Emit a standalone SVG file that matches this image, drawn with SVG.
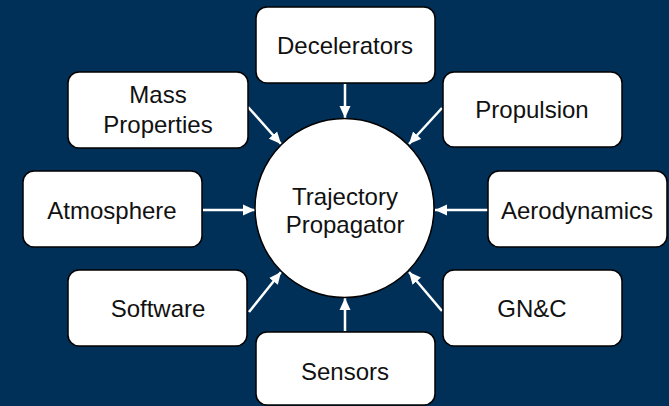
<svg xmlns="http://www.w3.org/2000/svg" width="669" height="406" viewBox="0 0 669 406">
<defs>
<style>
.box{fill:#fff;stroke:#000;stroke-width:1.5}
.lbl{font-family:"Liberation Sans",Arial,sans-serif;font-size:24px;fill:#111;text-anchor:middle}
.conn{stroke:#fff;stroke-width:2.5;fill:none;marker-end:url(#ah)}
</style>
<marker id="ah" markerUnits="userSpaceOnUse" markerWidth="13" markerHeight="12" refX="12" refY="6" orient="auto">
<path d="M0,0.5 L12,6 L0,11.5 Z" fill="#fff"/>
</marker>
</defs>
<rect width="669" height="406" fill="#003058"/>
<g id="connectors">
<line class="conn" x1="345" y1="84" x2="345" y2="118"/>
<line class="conn" x1="248" y1="107" x2="281" y2="144"/>
<line class="conn" x1="203" y1="210" x2="255" y2="210"/>
<line class="conn" x1="442" y1="108" x2="409" y2="144"/>
<line class="conn" x1="488" y1="210" x2="435" y2="210"/>
<line class="conn" x1="249" y1="312" x2="281" y2="272"/>
<line class="conn" x1="442" y1="311" x2="409" y2="272"/>
<line class="conn" x1="345" y1="331" x2="345" y2="298"/>
</g>
<g id="propagator">
<circle class="box" cx="344.5" cy="208" r="89.5"/>
<text class="lbl" x="345" y="205">Trajectory</text>
<text class="lbl" x="345" y="233">Propagator</text>
</g>
<g id="decelerators">
<rect class="box" x="256" y="7" width="179" height="76" rx="11"/>
<text class="lbl" x="345" y="54">Decelerators</text>
</g>
<g id="mass">
<rect class="box" x="68" y="72" width="180" height="76" rx="11"/>
<text class="lbl" x="158" y="103">Mass</text>
<text class="lbl" x="158" y="133">Properties</text>
</g>
<g id="propulsion">
<rect class="box" x="443" y="72" width="179" height="75" rx="11"/>
<text class="lbl" x="532" y="118">Propulsion</text>
</g>
<g id="atmosphere">
<rect class="box" x="23" y="171" width="179" height="76" rx="11"/>
<text class="lbl" x="112" y="219">Atmosphere</text>
</g>
<g id="aerodynamics">
<rect class="box" x="488" y="171" width="179" height="76" rx="11"/>
<text class="lbl" x="577" y="219">Aerodynamics</text>
</g>
<g id="software">
<rect class="box" x="68" y="270" width="179" height="76" rx="11"/>
<text class="lbl" x="158" y="317">Software</text>
</g>
<g id="gnc">
<rect class="box" x="443" y="270" width="179" height="76" rx="11"/>
<text class="lbl" x="532" y="317">GN&amp;C</text>
</g>
<g id="sensors">
<rect class="box" x="256" y="332" width="179" height="73" rx="11"/>
<text class="lbl" x="345" y="380">Sensors</text>
</g>
</svg>
